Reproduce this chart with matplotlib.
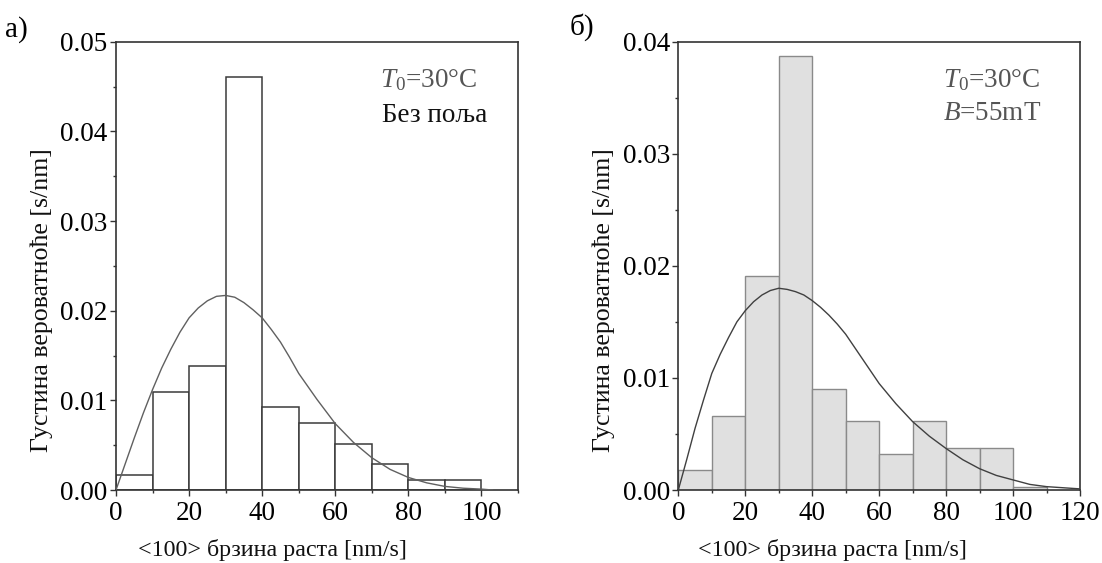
import numpy as np
import matplotlib
matplotlib.use('Agg')
import matplotlib.pyplot as plt
from matplotlib.ticker import MultipleLocator, FormatStrFormatter

plt.rcParams['font.family'] = ['Liberation Serif', 'DejaVu Serif']
plt.rcParams['mathtext.fontset'] = 'custom'
plt.rcParams['mathtext.rm'] = 'Liberation Serif'
plt.rcParams['mathtext.it'] = 'Liberation Serif:italic'

# histogram bins (nm/s)
bin_edges_a = [0, 10, 20, 30, 40, 50, 60, 70, 80, 90, 100]
bin_edges_b = [0, 10, 20, 30, 40, 50, 60, 70, 80, 90, 100, 110]

# panel a) - no field
dens_a = [0.00167, 0.0109, 0.0138, 0.0461, 0.00922, 0.00747, 0.0051, 0.00287, 0.00108, 0.00108]
fit_x_a = [0, 2.5, 5, 7.5, 10, 12.5, 15, 17.5, 20, 22.5, 25, 27.5, 30, 32.5, 35, 37.5, 40, 42.5, 45,
           47.5, 50, 55, 60, 65, 70, 75, 80, 85, 90, 95, 100, 103]
fit_y_a = [0, 0.0029, 0.0058, 0.0086, 0.0112, 0.0136, 0.0157, 0.0176, 0.0192, 0.0203, 0.0211, 0.0216,
           0.0217, 0.0215, 0.0209, 0.0201, 0.0192, 0.0179, 0.0165, 0.0148, 0.0130, 0.0101, 0.0074,
           0.0053, 0.0036, 0.0023, 0.0014, 0.0008, 0.0004, 0.0002, 0.0001, 0.0]

# panel b) - B = 55 mT
dens_b = [0.00178, 0.00663, 0.0191, 0.03875, 0.00901, 0.00616, 0.00321, 0.00616, 0.00372, 0.00372, 0.0003]
fit_x_b = [0, 2.5, 5, 7.5, 10, 12.5, 15, 17.5, 20, 22.5, 25, 27.5, 30, 32.5, 35, 37.5, 40, 42.5, 45,
           47.5, 50, 55, 60, 65, 70, 75, 80, 85, 90, 95, 100, 105, 110, 115, 120]
fit_y_b = [0, 0.0027, 0.0055, 0.0080, 0.0104, 0.0121, 0.0136, 0.0150, 0.0160, 0.0168, 0.0174, 0.0178,
           0.0180, 0.0179, 0.0177, 0.0174, 0.0169, 0.0163, 0.0156, 0.0148, 0.0139, 0.0117, 0.0095,
           0.0077, 0.0061, 0.0048, 0.0037, 0.0027, 0.0019, 0.0013, 0.0009, 0.0005, 0.0003, 0.0002, 0.0001]

W, H = 1102, 563
fig = plt.figure(figsize=(W / 100, H / 100), dpi=100)

def px_axes(x0, x1, y0, y1):
    return fig.add_axes([x0 / W, 1 - y1 / H, (x1 - x0) / W, (y1 - y0) / H])

def ftext(x, y, s, **kw):
    # place text by pixel position measured from the top-left corner
    return fig.text(x / W, 1 - y / H, s, **kw)

def style_axes(ax, xmax, ymax):
    ax.set_xlim(0, xmax)
    ax.set_ylim(0, ymax)
    ax.xaxis.set_major_locator(MultipleLocator(20))
    ax.xaxis.set_minor_locator(MultipleLocator(10))
    ax.yaxis.set_major_locator(MultipleLocator(0.01))
    ax.yaxis.set_minor_locator(MultipleLocator(0.005))
    ax.yaxis.set_major_formatter(FormatStrFormatter('%.2f'))
    ax.tick_params(which='both', direction='out', top=False, right=False,
                   color='#333333', labelsize=19.5, width=1.0)
    ax.tick_params(which='major', length=4)
    ax.tick_params(axis='x', which='major', pad=4)
    ax.tick_params(axis='y', which='major', pad=2)
    ax.tick_params(which='minor', length=2.5)
    for s in ax.spines.values():
        s.set_linewidth(1.2)
        s.set_color('#333333')

ax1 = px_axes(116, 518, 41.7, 490)
ax1.bar(bin_edges_a[:-1], dens_a, width=10, align='edge', facecolor='white',
        edgecolor='#3a3a3a', linewidth=1.1, zorder=2)
ax1.plot(fit_x_a, fit_y_a, color='#606060', linewidth=1.0, zorder=3)
style_axes(ax1, 110, 0.05)

ax2 = px_axes(678.3, 1080, 41.7, 490)
ax2.bar(bin_edges_b[:-1], dens_b, width=10, align='edge', facecolor='#e0e0e0',
        edgecolor='#8a8a8a', linewidth=1.0, zorder=2)
ax2.plot(fit_x_b, fit_y_b, color='#404040', linewidth=1.0, zorder=3)
style_axes(ax2, 120, 0.04)

# annotations
ftext(380, 80, r'$\mathit{T}_0$=30°C', fontsize=19.5, color='#555555', va='center', ha='left')
ftext(382, 115, 'Без поља', fontsize=19.5, color='#111111', va='center', ha='left')
ftext(943, 80, r'$\mathit{T}_0$=30°C', fontsize=19.5, color='#555555', va='center', ha='left')
ftext(943, 113, r'$\mathit{B}$=55mT', fontsize=19.5, color='#555555', va='center', ha='left')

# axis labels and panel letters
ylab = 'Густина вероватноће [s/nm]'
xlab = '<100> брзина раста [nm/s]'
ftext(42, 300, ylab, rotation=90, fontsize=18.6, ha='center', va='center', color='#111111')
ftext(604, 300, ylab, rotation=90, fontsize=18.6, ha='center', va='center', color='#111111')
ftext(272, 550, xlab, fontsize=17.3, ha='center', va='center', color='#111111')
ftext(832, 550, xlab, fontsize=17.3, ha='center', va='center', color='#111111')
ftext(5, 30, 'а)', fontsize=21, ha='left', va='center')
ftext(570, 27, 'б)', fontsize=21, ha='left', va='center')

fig.savefig('out.png', dpi=100, facecolor='white')
